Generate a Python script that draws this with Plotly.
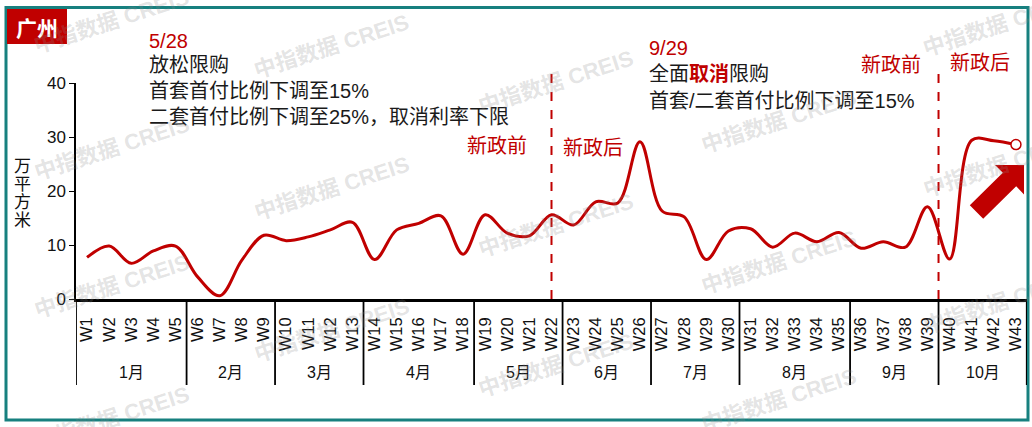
import plotly.graph_objects as go

# ---------------- data ----------------
months = ["1月", "2月", "3月", "4月", "5月", "6月", "7月", "8月", "9月", "10月"]
weeks_per_month = [5, 4, 4, 5, 4, 4, 4, 5, 4, 4]
weeks = ["W1", "W2", "W3", "W4", "W5", "W6", "W7", "W8", "W9", "W10",
         "W11", "W12", "W13", "W14", "W15", "W16", "W17", "W18", "W19", "W20",
         "W21", "W22", "W23", "W24", "W25", "W26", "W27", "W28", "W29", "W30",
         "W31", "W32", "W33", "W34", "W35", "W36", "W37", "W38", "W39", "W40",
         "W41", "W42", "W43"]
deals = [7.7, 9.8, 6.6, 8.9, 9.8, 4.1, 0.6, 7.2, 11.8, 10.8,
         11.5, 12.8, 14.2, 7.3, 12.8, 14.0, 15.4, 8.3, 15.6, 12.2,
         11.7, 15.6, 13.7, 18.0, 17.8, 29.1, 16.3, 15.2, 7.3, 12.6,
         13.0, 9.6, 12.2, 10.6, 12.3, 9.4, 10.6, 9.6, 17.1, 7.4,
         29.4, 29.3, 28.6]
y_ticks = [0, 10, 20, 30, 40]
policy_week_1 = "W22"          # dashed line on this week
policy_week_2 = ("W39", "W40")  # dashed line between these weeks

city = "广州"
y_title = "万平方米"

RED = "#C00000"
TEAL = "#17807f"
FONT = "Liberation Sans, Arial, Noto Sans CJK SC, sans-serif"

# ---------------- layout helpers ----------------
W, H = 1032, 427
L, R, T, B = 76, 5, 83, 128
PW, PH = W - L - R, H - T - B


def px(x):
    return (x - L) / PW


def py(y):
    return (H - B - y) / PH


fig = go.Figure()
fig.add_trace(go.Scatter(
    x=weeks, y=deals, mode="lines",
    line=dict(color=RED, width=3, shape="spline", smoothing=1.0),
    hoverinfo="x+y", showlegend=False))
fig.add_trace(go.Scatter(
    x=[weeks[-1]], y=[deals[-1]], mode="markers",
    marker=dict(size=10, color="white", line=dict(color=RED, width=1.5)),
    cliponaxis=False, showlegend=False))

shapes = []
annotations = []

# outer frame
shapes.append(dict(type="rect", xref="paper", yref="paper",
                   x0=px(6), x1=px(1028), y0=py(420), y1=py(7.5),
                   line=dict(color=TEAL, width=3), layer="above"))
# city label box
shapes.append(dict(type="rect", xref="paper", yref="paper",
                   x0=px(7), x1=px(67), y0=py(44), y1=py(9),
                   fillcolor=RED, line=dict(width=0), layer="above"))
annotations.append(dict(text="<b>" + city + "</b>", xref="paper", yref="paper",
                        x=px(37), y=py(27), showarrow=False,
                        xanchor="center", yanchor="middle",
                        font=dict(size=21, color="white", family="Noto Sans CJK SC")))

# month dividers and labels
idx = -0.5
for m, n in zip(months, weeks_per_month):
    shapes.append(dict(type="line", xref="x", yref="paper",
                       x0=idx, x1=idx, y0=0, y1=py(385),
                       line=dict(color="black", width=1.8)))
    annotations.append(dict(text=m, xref="x", yref="paper",
                            x=idx + n / 2, y=py(372), showarrow=False,
                            xanchor="center", yanchor="middle",
                            font=dict(size=16, color="#111", family=FONT)))
    idx += n
shapes.append(dict(type="line", xref="x", yref="paper",
                   x0=idx - 0.01, x1=idx - 0.01, y0=0, y1=py(385),
                   line=dict(color="black", width=1.8)))

# policy dashed lines
x_p1 = weeks.index(policy_week_1)
x_p2 = (weeks.index(policy_week_2[0]) + weeks.index(policy_week_2[1])) / 2
for xp in (x_p1, x_p2):
    shapes.append(dict(type="line", xref="x", yref="paper",
                       x0=xp, x1=xp, y0=0, y1=py(70),
                       line=dict(color=RED, width=2, dash="dash")))

# big arrow
arrow_pts = [(969.8, 205.3), (1002.8, 172.8), (995, 165), (1024, 165),
             (1024, 194.6), (1016.2, 186.2), (983.2, 218.7)]
path = "M " + " L ".join(f"{px(a):.5f},{py(b):.5f}" for a, b in arrow_pts) + " Z"
shapes.append(dict(type="path", xref="paper", yref="paper", path=path,
                   fillcolor=RED, line=dict(width=0), layer="above"))

# y-axis title, one character per line
for i, ch in enumerate(y_title):
    annotations.append(dict(text=ch, xref="paper", yref="paper",
                            x=px(22), y=py(166 + i * 18.3), showarrow=False,
                            xanchor="center", yanchor="middle",
                            font=dict(size=17, color="#111", family=FONT)))

# text annotations
texts = [
    ("5/28", 147, 41, RED),
    ("放松限购", 147, 65, "#1a1a1a"),
    ("首套首付比例下调至15%", 147, 91, "#1a1a1a"),
    ("二套首付比例下调至25%，取消利率下限", 147, 117, "#1a1a1a"),
    ("新政前", 465, 146, RED),
    ("新政后", 561, 148, RED),
    ("9/29", 647, 48, RED),
    ("全面<span style='color:#C00000'><b>取消</b></span>限购", 647, 74, "#1a1a1a"),
    ("首套/二套首付比例下调至15%", 647, 101, "#1a1a1a"),
    ("新政前", 859, 65, RED),
    ("新政后", 948, 63, RED),
]
for t, x, y, c in texts:
    annotations.append(dict(text=t, xref="paper", yref="paper",
                            x=px(x), y=py(y), showarrow=False,
                            xanchor="left", yanchor="middle",
                            font=dict(size=20, color=c, family=FONT)))

# watermarks
wm_pos = [(111, 22), (111, 148), (111, 286), (111, 418),
          (331, 47), (331, 188), (331, 330),
          (555, 82), (555, 225), (555, 365),
          (778, 121), (778, 262), (778, 400),
          (1000, 25), (1000, 165), (1000, 302)]
for x, y in wm_pos:
    annotations.append(dict(text="<b>中指数据 CREIS</b>", xref="paper", yref="paper",
                            x=px(x), y=py(y), showarrow=False, textangle=-18,
                            xanchor="center", yanchor="middle",
                            font=dict(size=22, color="rgba(140,140,140,0.24)",
                                      family=FONT)))

fig.update_layout(
    width=W, height=H,
    margin=dict(l=L, r=R, t=T, b=B, pad=0),
    paper_bgcolor="white", plot_bgcolor="white",
    font=dict(family=FONT, color="#111"),
    shapes=shapes, annotations=annotations,
    xaxis=dict(type="category", categoryorder="array", categoryarray=weeks,
               range=[-0.5, len(weeks) - 0.5], showgrid=False, zeroline=False,
               showline=True, linecolor="black", linewidth=2.5,
               ticks="", tickangle=-90, ticklabelstandoff=9,
               tickfont=dict(size=16.5, color="#111", family=FONT)),
    yaxis=dict(range=[0, 40], tickvals=y_ticks, showgrid=False, zeroline=False,
               showline=True, linecolor="black", linewidth=1.5,
               ticks="outside", ticklen=5, tickcolor="black",
               tickfont=dict(size=17, color="#111", family=FONT)),
)

fig.write_html("out.html", config={"displayModeBar": False},
               post_script="document.body.style.margin='0px';")
